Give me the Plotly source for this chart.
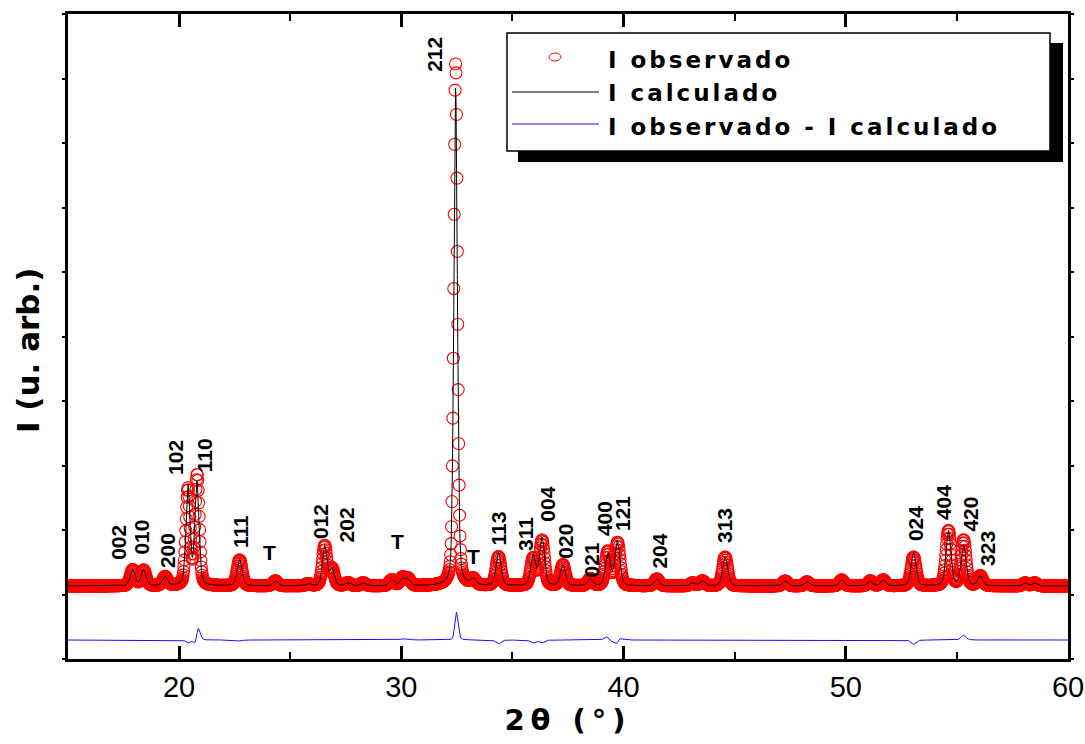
import numpy as np
import plotly.graph_objects as go

# ---------------- data ----------------
# Bragg reflections: calculated profile (centre 2θ, height above background in counts, FWHM in °)
calc_pos = [17.91, 18.40, 19.37, 20.40, 20.80, 22.72, 24.33, 25.80, 26.55, 26.88,
            27.60, 28.28, 29.57, 30.05, 30.30, 32.443, 33.23, 34.37, 35.93, 36.33,
            37.27, 38.50, 39.30, 39.72, 41.50, 43.10, 43.55, 44.57, 47.27, 48.25,
            49.82, 51.10, 51.68, 53.05, 54.62, 55.30, 56.05, 58.07, 58.50]
calc_height = [400, 400, 225, 2475, 2575, 675, 125, 50, 1000, 425,
               75, 75, 150, 175, 150, 12450, 150, 825, 750, 1200,
               525, 175, 800, 1125, 175, 75, 125, 725, 125, 100,
               150, 125, 150, 825, 1375, 1025, 250, 75, 75]
peak_fwhm = [0.26, 0.26, 0.26, 0.22, 0.22, 0.26, 0.26, 0.26, 0.24, 0.24,
             0.26, 0.26, 0.26, 0.26, 0.26, 0.19, 0.26, 0.26, 0.26, 0.26,
             0.26, 0.26, 0.26, 0.26, 0.26, 0.26, 0.26, 0.26, 0.26, 0.26,
             0.26, 0.26, 0.26, 0.26, 0.26, 0.26, 0.26, 0.26, 0.26]
# observed profile (same reflections, as measured)
obs_pos = [17.91, 18.40, 19.37, 20.40, 20.81, 22.72, 24.33, 25.80, 26.55, 26.88,
           27.60, 28.28, 29.57, 30.05, 30.30, 32.445, 33.23, 34.37, 35.93, 36.33,
           37.27, 38.50, 39.29, 39.73, 41.50, 43.10, 43.55, 44.57, 47.27, 48.25,
           49.82, 51.10, 51.68, 53.05, 54.62, 55.30, 56.05, 58.07, 58.50]
obs_height = [400, 390, 225, 2400, 2750, 650, 125, 50, 1000, 425,
              75, 75, 150, 200, 175, 13075, 150, 725, 675, 1125,
              525, 175, 850, 1075, 175, 75, 125, 725, 125, 100,
              150, 125, 150, 720, 1375, 1140, 250, 75, 75]
background = 500          # counts
diff_offset = -850        # vertical offset of the difference curve
lorentz_fraction = 0.3
step = 0.02

# reflection labels
label_text = ["002", "010", "200", "102", "110", "111", "012", "202", "212", "113",
              "311", "004", "020", "021", "400", "121", "204", "313", "024", "404",
              "420", "323"]
label_2theta = [17.27, 18.33, 19.46, 19.83, 21.15, 22.76, 26.34, 27.53, 31.49, 34.37,
                35.59, 36.54, 37.37, 38.54, 39.15, 39.95, 41.64, 44.54, 53.12, 54.38,
                55.57, 56.38]
label_int = [1590, 1710, 1375, 3710, 3760, 1860, 2100, 2025, 13790, 1950,
             1790, 2550, 1610, 1140, 2190, 2310, 1360, 2010, 2050, 2575,
             2300, 1440]
t_2theta = [24.07, 29.83, 33.23]
t_int = [1350, 1625, 1250]

x_ticks = [20, 30, 40, 50, 60]

# ---------------- profiles ----------------
two_theta = np.round(np.arange(15.0, 60.0 + step / 2, step), 3)


def profile(pos, height, fwhm):
    y = np.full_like(two_theta, float(background))
    for c, h, w in zip(pos, height, fwhm):
        u = (two_theta - c) / w
        g = np.exp(-4 * np.log(2) * u ** 2)
        l = 1.0 / (1.0 + 4 * u ** 2)
        y += h * (lorentz_fraction * l + (1 - lorentz_fraction) * g)
    return y


i_calc = profile(calc_pos, calc_height, peak_fwhm)
i_obs = profile(obs_pos, obs_height, peak_fwhm)
i_diff = i_obs - i_calc + diff_offset

fig = go.Figure()
fig.add_trace(go.Scatter(x=two_theta, y=i_obs, mode="markers", name="I observado",
                         marker=dict(symbol="circle-open", size=12, color="red",
                                     line=dict(width=1.1, color="red"))))
fig.add_trace(go.Scatter(x=two_theta, y=i_calc, mode="lines", name="I calculado",
                         line=dict(color="black", width=1)))
fig.add_trace(go.Scatter(x=two_theta, y=i_diff, mode="lines",
                         name="I observado - I calculado",
                         line=dict(color="#1010ff", width=1)))

# reflection labels
for t, x, y in zip(label_text, label_2theta, label_int):
    fig.add_annotation(x=x, y=y, text=t, textangle=-90, showarrow=False,
                       xanchor="center", yanchor="middle",
                       font=dict(family="Liberation Sans", size=21, color="black",
                                 weight="bold"))
for x, y in zip(t_2theta, t_int):
    fig.add_annotation(x=x, y=y, text="T", showarrow=False,
                       xanchor="center", yanchor="middle",
                       font=dict(family="Liberation Sans", size=21, color="black",
                                 weight="bold"))

# ---------------- hand-drawn legend box (with shadow) ----------------
L, T, W, H = 68, 14, 1000, 645


def px(xp):
    return (xp - L) / W


def py(yp):
    return (T + H - yp) / H


shapes = [
    dict(type="rect", xref="paper", yref="paper", x0=px(518), x1=px(1063),
         y0=py(162), y1=py(43), fillcolor="black", line=dict(width=0), layer="above"),
    dict(type="rect", xref="paper", yref="paper", x0=px(507), x1=px(1050),
         y0=py(151), y1=py(33), fillcolor="white",
         line=dict(color="black", width=1.5), layer="above"),
    dict(type="circle", xref="paper", yref="paper", x0=px(549), x1=px(561),
         y0=py(61), y1=py(53), line=dict(color="red", width=1), layer="above"),
    dict(type="line", xref="paper", yref="paper", x0=px(512), x1=px(599),
         y0=py(92), y1=py(92), line=dict(color="black", width=1), layer="above"),
    dict(type="line", xref="paper", yref="paper", x0=px(512), x1=px(599),
         y0=py(124), y1=py(124), line=dict(color="#1010ff", width=1), layer="above"),
]
legend_rows = [("I observado", 60), ("I calculado", 93), ("I observado - I calculado", 127)]
for txt, yp in legend_rows:
    fig.add_annotation(xref="paper", yref="paper", x=px(606), y=py(yp),
                       text='<span style="letter-spacing:3px">' + txt + '</span>',
                       showarrow=False, xanchor="left", yanchor="middle",
                       font=dict(family="DejaVu Sans", size=23, color="black",
                                 weight="bold"))

# y-axis title (placed as in the original, slightly below the axis centre)
fig.add_annotation(xref="paper", yref="paper", x=px(28), y=py(351),
                   text="I (u. arb.)", textangle=-90, showarrow=False,
                   xanchor="center", yanchor="middle",
                   font=dict(family="DejaVu Sans", size=31, color="black",
                             weight="bold"))

fig.update_layout(
    width=1085, height=744,
    margin=dict(l=68, r=17, t=14, b=85),
    plot_bgcolor="white", paper_bgcolor="white",
    showlegend=False,
    shapes=shapes,
    xaxis=dict(range=[15, 60], tickvals=x_ticks, ticks="inside", ticklen=13,
               tickwidth=2.5, tickcolor="black", showline=True, linewidth=3,
               linecolor="black", mirror="allticks", showgrid=False, zeroline=False,
               automargin=False,
               minor=dict(dtick=5, ticks="inside", ticklen=7, tickwidth=2,
                          tickcolor="black"),
               tickfont=dict(family="Liberation Sans", size=29, color="black"),
               title=dict(text='<span style="letter-spacing:6px">2θ (°)</span>',
                          font=dict(family="DejaVu Sans", size=29, color="black",
                                    weight="bold"), standoff=8)),
    yaxis=dict(range=[-1325, 14800], tick0=-1325, dtick=1612.5, showticklabels=False,
               ticks="outside", ticklen=3, tickwidth=2, tickcolor="black",
               showline=True, linewidth=3, linecolor="black", mirror="allticks",
               showgrid=False, zeroline=False, automargin=False),
)

fig.write_html("out.html")
